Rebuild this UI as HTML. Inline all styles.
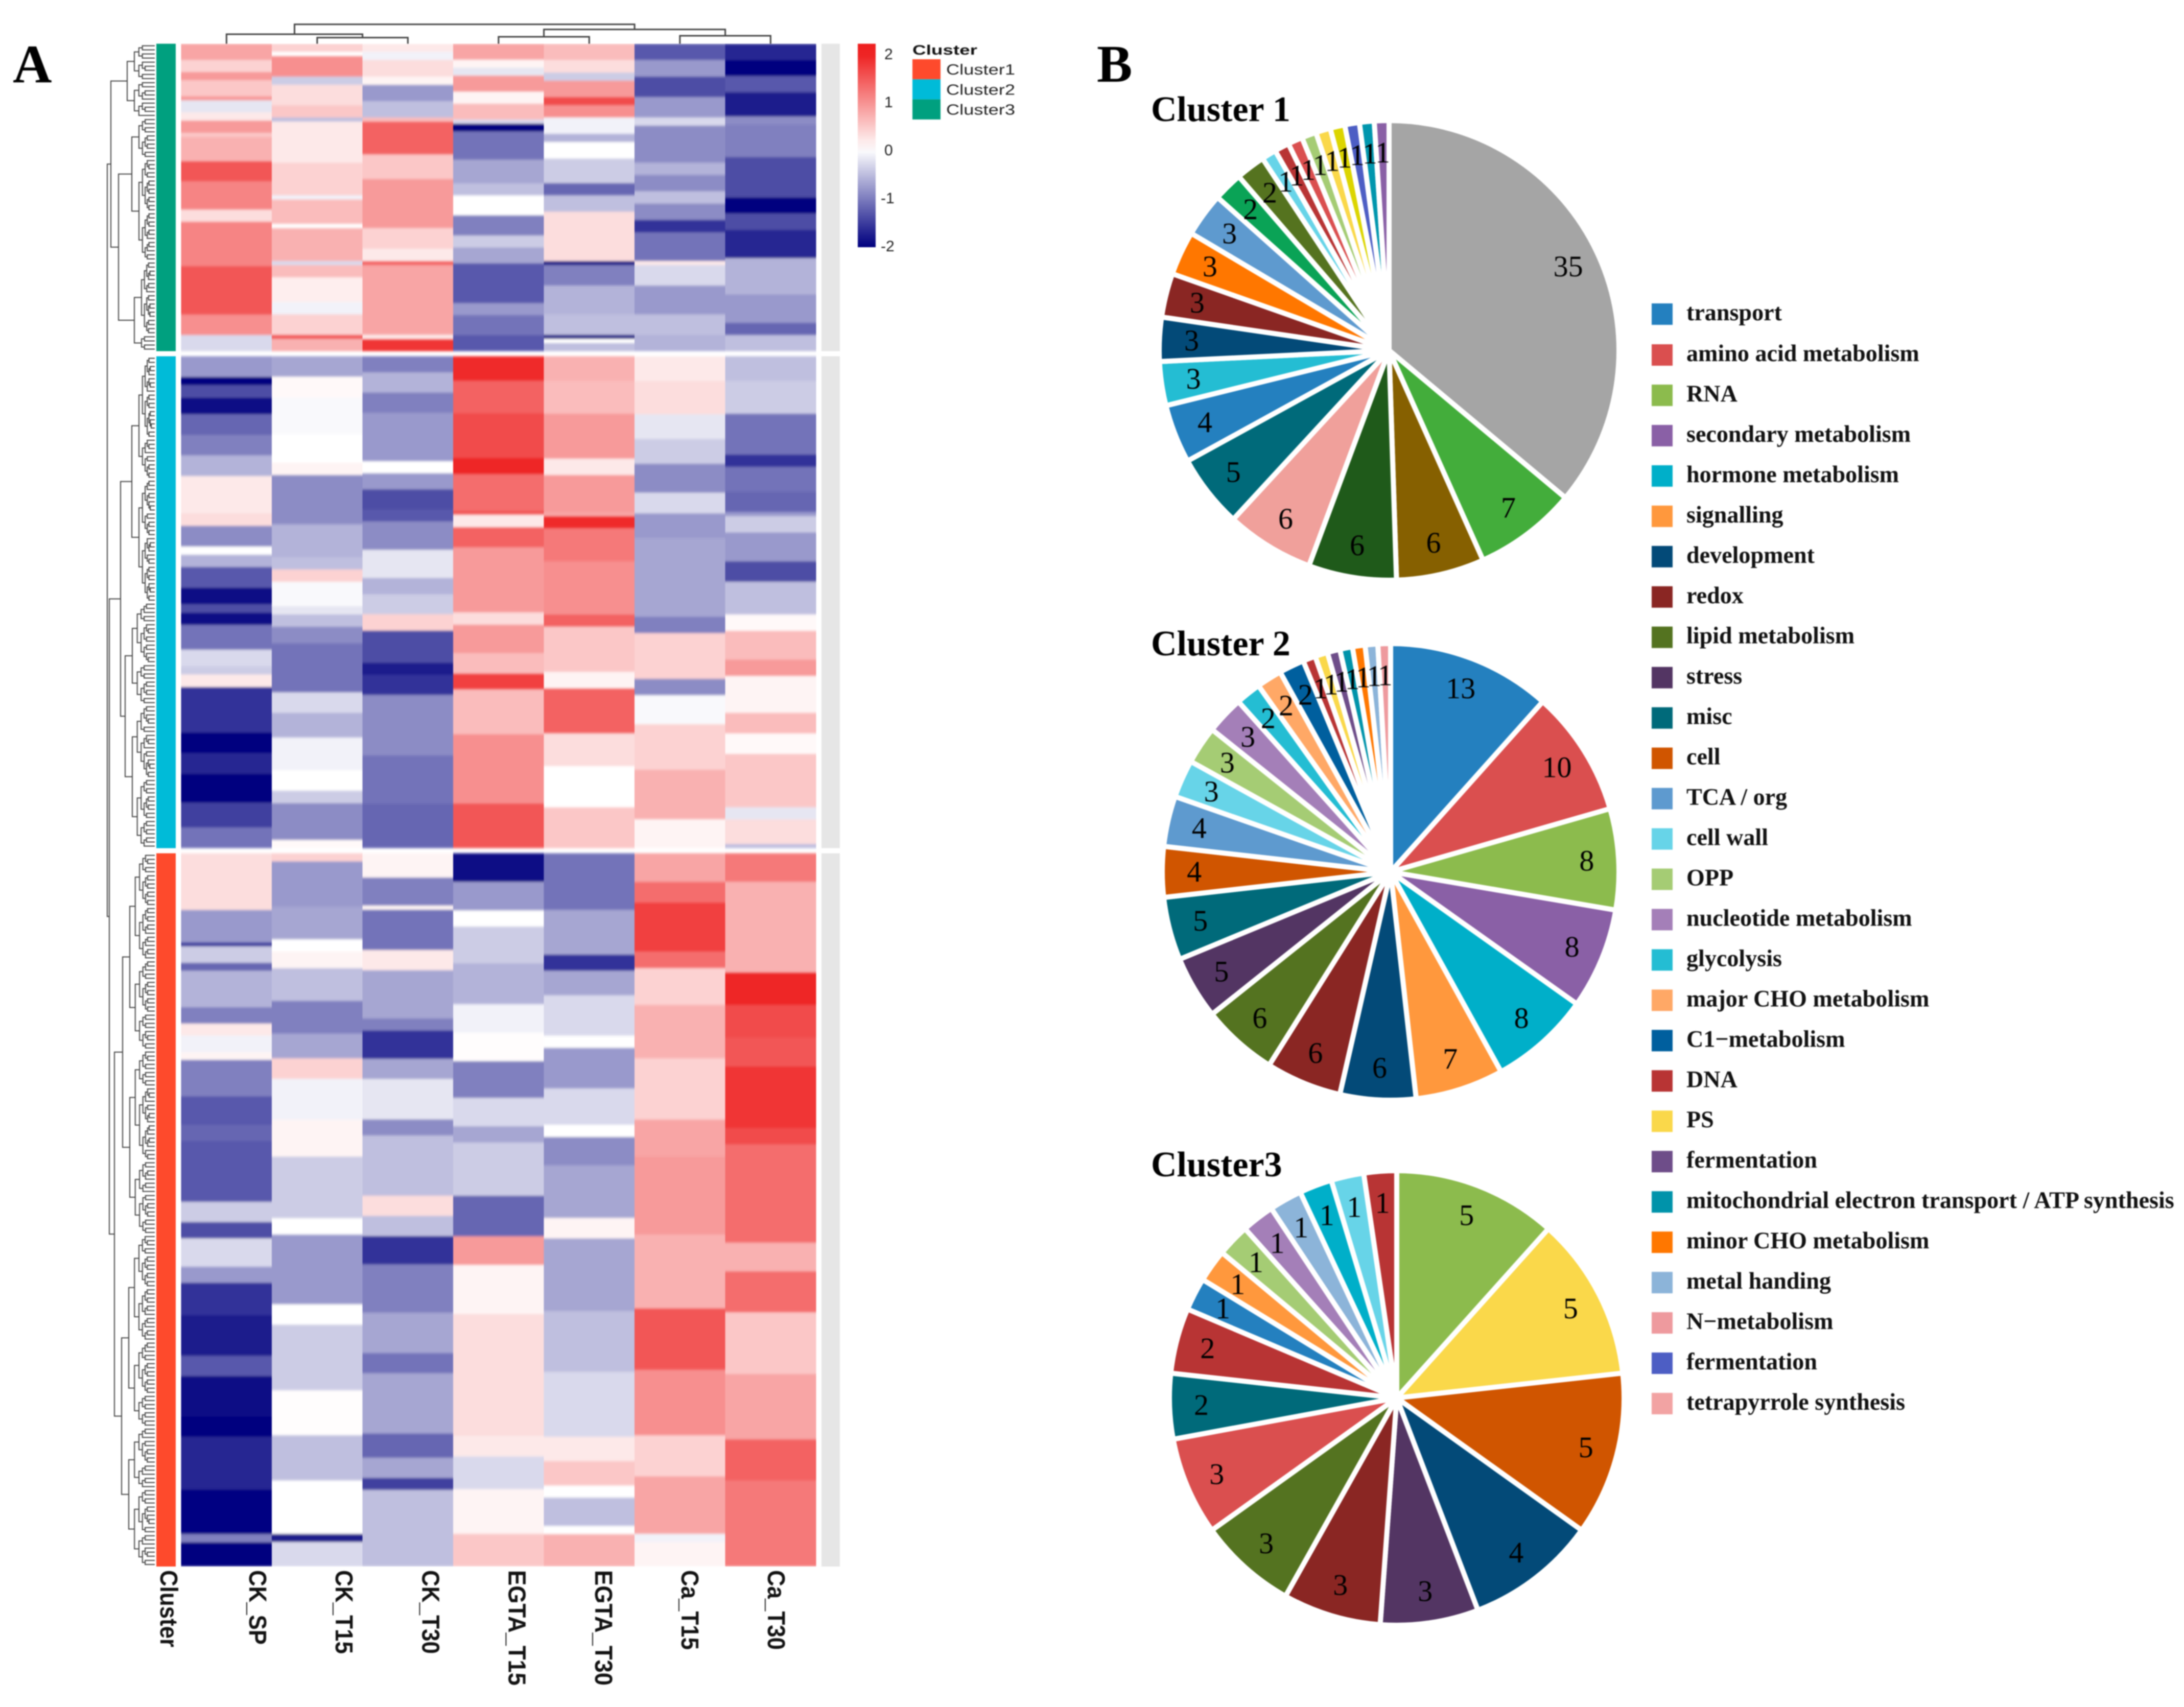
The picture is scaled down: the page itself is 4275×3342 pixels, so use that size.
<!DOCTYPE html>
<html lang="en">
<head>
<meta charset="utf-8">
<title>Heatmap and functional category pie charts</title>
<style>
html,body{margin:0;padding:0;background:#fff;}
svg{display:block;filter:blur(1.2px);}
.serif{font-family:"Liberation Serif",serif;}
.sans{font-family:"Liberation Sans",sans-serif;}
</style>
</head>
<body>
<svg id="fig" xmlns="http://www.w3.org/2000/svg" width="4275" height="3342" viewBox="0 0 4275 3342">
<defs><filter id="rowBlur" x="0" y="0" width="1" height="1"><feGaussianBlur stdDeviation="0 2.5"/></filter></defs>
<rect x="0" y="0" width="4275" height="3342" fill="#fff"/>
<text class="serif" x="25" y="161" font-size="106" font-weight="bold" fill="#000">A</text>
<text class="serif" x="2147" y="160" font-size="104" font-weight="bold" fill="#000">B</text>
<text class="serif" x="2253" y="237" font-size="70" font-weight="bold" fill="#000">Cluster 1</text>
<text class="serif" x="2253" y="1283" font-size="70" font-weight="bold" fill="#000">Cluster 2</text>
<text class="serif" x="2253" y="2303" font-size="70" font-weight="bold" fill="#000">Cluster3</text>
<text class="sans" x="1786" y="107" font-size="27" font-weight="bold" fill="#111" textLength="127" lengthAdjust="spacingAndGlyphs">Cluster</text>
<g id="heat" shape-rendering="crispEdges" filter="url(#rowBlur)"></g>
<g id="strip"></g>
<g id="annot"></g>
<g id="dendro"></g>
<g id="collabels"></g>
<g id="cbar"></g>
<g id="clegend"></g>
<g id="pies"></g>
<g id="legend"></g>
</svg>
<script>
// ---------- heatmap data: [rowCount, zScore, rowCount, zScore, ...] for each column ----------
const columnLabels = ["CK_SP","CK_T15","CK_T30","EGTA_T15","EGTA_T30","Ca_T15","Ca_T30"];
const columnLabelLengths = [146,164,164,226,226,156,156];
const clusterNames = ["Cluster3","Cluster2","Cluster1"];
const clusterRowCounts = [75,120,174];
const clusterColors = ["#00a07f","#00bbd8","#fe4a2c"];
const colorbarTicks = [2,1,0,-1,-2];

const cluster3Runs = [
 [4,.8,3,.4,2,.9,4,.5,1,.9,3,-.2,2,.2,3,.9,1,.5,6,.7,5,1.5,7,1.1,3,.3,11,1.1,12,1.5,5,1,4,-.3],
 [2,.4,1,0,5,1,2,-.4,5,.3,3,.5,1,-.5,10,.2,8,.4,1,-.1,6,.6,1,0,8,.7,1,-.3,3,.6,6,.15,3,-.1,5,.4,1,1.5,3,.7],
 [2,.2,2,-.1,4,.3,2,.1,4,-.8,4,-.5,1,.6,8,1.4,6,.5,12,.9,5,.4,3,.2,1,1.4,17,.8,1,.2,3,1.8],
 [4,.8,2,.1,2,-.2,4,.9,3,.1,4,.6,1,-.3,2,-2,7,-1.1,6,-.7,3,-.5,5,0,5,-1,3,-.4,4,-.7,10,-1.3,3,-.8,5,-1.1,4,-1.3],
 [4,.6,3,.3,2,-.4,4,.9,2,1.6,3,1,4,-.1,2,-.6,4,0,6,-.4,3,-1.2,4,-.5,12,.3,1,-1.9,5,-1,7,-.6,5,-.5,1,-1.9,1,0,2,-.5],
 [4,-1.3,4,-.8,5,-1.4,5,-.8,2,-.3,9,-.9,3,-.6,4,-.9,3,-.5,4,-.9,3,-1.6,7,-1.1,1,.2,5,-.3,7,-.8,5,-.5,4,-.6],
 [4,-1.7,4,-2,4,-1.3,6,-1.8,2,-.9,8,-1,10,-1.4,4,-2,4,-1.4,7,-1.7,9,-.6,7,-.8,3,-1.2,4,-.5]
];
const cluster2Runs = [
 [5,-.8,2,-2,3,-1.4,4,-1.9,5,-1.2,5,-1,5,-.6,9,.2,3,.3,5,-.9,2,0,3,-.6,5,-1.3,4,-1.9,2,-1.4,3,-1.9,6,-1.1,4,-.3,2,-.4,3,.2,11,-1.6,5,-2,5,-1.7,7,-2,6,-1.5,5,-1.1],
 [5,-.7,5,.05,9,-.05,7,0,3,.1,9,-.9,3,-.9,8,-.6,3,-.5,3,.4,6,-.05,2,-.2,3,-.5,4,-.9,12,-1.1,5,-.3,6,-.6,8,-.1,5,0,3,-.4,9,-.9,2,.05],
 [4,-1,5,-.6,5,-1,12,-.8,3,0,4,-.8,5,-1.4,3,-1.3,7,-.9,7,-.2,4,-.6,5,-.4,4,.4,8,-1.4,3,-1.8,5,-1.6,15,-.9,12,-1.1,11,-1.2],
 [6,1.9,8,1.4,11,1.6,4,1.95,9,1.3,1,1.5,3,.2,5,1.4,16,.9,3,.3,7,.9,5,.6,4,1.7,11,.6,17,1,11,1.5],
 [6,.7,8,.6,11,.9,4,.2,9,.9,1,.8,3,1.9,8,1.2,13,1,3,1.4,11,.5,4,.1,11,1.4,8,.3,10,0,10,.5],
 [6,.2,8,.3,6,-.2,6,-.4,7,-.9,5,-.3,6,-.8,19,-.7,4,-1,11,.4,4,-.9,7,-.05,11,.4,12,.7,7,.1],
 [6,-.5,8,-.4,10,-1.1,3,-1.6,6,-1.1,5,-1.2,1,-.8,4,-.4,7,-.8,5,-1.4,8,-.5,4,.05,7,.6,4,.9,9,.1,5,.6,5,.05,13,.5,3,-.2,6,.3,1,-.5]
];
const cluster1Runs = [
 [14,.3,8,-.8,1,-1.5,4,-.4,2,-1.2,9,-.6,4,-1,3,.2,4,-.1,2,.1,9,-1,7,-1.3,4,-1.2,15,-1.3,5,-.4,4,-1.4,7,-.3,4,-.8,8,-1.6,10,-1.8,5,-1.3,10,-1.9,5,-2,13,-1.7,11,-1.95,2,-1,6,-2],
 [2,.4,11,-.8,8,-.7,3,0,4,.1,8,-.5,8,-1,6,-.7,5,.4,10,-.1,9,.1,15,-.4,4,0,17,-.8,5,0,16,-.4,11,.02,11,-.5,13,0,2,-1.8,6,-.3],
 [6,.1,7,-1,1,.1,10,-1.1,5,.2,12,-.7,3,-1,7,-1.6,5,-.7,10,-.2,4,-.9,15,-.5,5,.3,5,-.5,7,-1.6,12,-1,10,-.7,5,-1.1,15,-.7,6,-1.2,5,-.7,3,-1.5,19,-.5],
 [7,-1.9,7,-.8,4,0,9,-.4,10,-.6,7,-.1,7,.02,9,-1,7,-.3,4,-.7,13,-.4,10,-1.2,7,.9,12,.1,30,.3,5,.2,8,-.3,11,.1,8,.5],
 [14,-1.1,11,-.7,4,-1.6,6,-.7,10,-.3,3,0,10,-.8,9,-.3,3,0,7,-.9,13,-.7,5,.1,7,-.7,11,-.7,15,-.5,16,-.3,6,.2,6,.5,3,0,7,-.5,2,0,8,.7],
 [7,.8,5,1.3,12,1.7,4,1.3,9,.4,13,.7,15,.4,9,.8,19,.9,18,.7,15,1.5,16,1,10,.4,14,.8,2,-.1,6,.1],
 [7,1.2,22,.7,8,1.95,8,1.6,7,1.5,15,1.8,4,1.6,24,1.3,7,.7,10,1.3,15,.5,16,.8,10,1.4,21,1.2]
];

// ---------- dendrogram structure ----------
const topTree = {h:38,l:{h:18.6,l:0,r:{h:12,l:1,r:2}},r:{h:28,l:{h:13.6,l:3,r:4},r:{h:15.6,l:5,r:6}}};
const leftTree = [210,[217,[249,9,9],[232,[258,10,25],[263,18,4]]],[214,[236,[258,30,30],[245,25,35]],[224,[240,48,45],[238,47,34]]]];
const splitFractions = [.45,.6,.35,.55,.5,.4,.65];

// ---------- pie data ----------
const legendLabels = ["transport","amino acid metabolism","RNA","secondary metabolism","hormone metabolism","signalling","development","redox","lipid metabolism","stress","misc","cell","TCA / org","cell wall","OPP","nucleotide metabolism","glycolysis","major CHO metabolism","C1\u2212metabolism","DNA","PS","fermentation","mitochondrial electron transport / ATP synthesis","minor CHO metabolism","metal handing","N\u2212metabolism","fermentation","tetrapyrrole synthesis"];
const legendColors = ["#2480bf","#da4f4f","#8cbb4d","#8a60a6","#00afc9","#ff983d","#034a78","#8a2623","#547320","#533563","#006a7a","#d05500","#5e9acf","#67d4e8","#a5cc74","#a47fb8","#24bdd3","#ffa866","#005f9e","#b83434","#fad84a","#6e4d89","#0093aa","#ff7700","#8cb4d9","#ee9a9e","#4d5ec4","#f2a3a3"];

const pie1Values = [35,7,6,6,6,5,4,3,3,3,3,3,2,2,1,1,1,1,1,1,1,1,1];
const pie1Colors = ["#a5a5a5","#43ad3b","#866000","#1f5a1a","#f0a09b","#006a7a","#2480bf","#24bdd3","#034a78","#8a2623","#ff7700","#5e9acf","#0aa356","#55731f","#67d4e8","#b83434","#da4f4f","#a5cc74","#fad84a","#dcd500","#4d5ec4","#0096ad","#8a60a6"];
const pie2Values = [13,10,8,8,8,7,6,6,6,5,5,4,4,3,3,3,2,2,2,1,1,1,1,1,1,1];
const pie2Categories = [0,1,2,3,4,5,6,7,8,9,10,11,12,13,14,15,16,17,18,19,20,21,22,23,24,25];
const pie3Values = [5,5,5,4,3,3,3,3,2,2,1,1,1,1,1,1,1,1];
const pie3Categories = [2,20,11,6,9,7,8,1,10,19,0,5,14,15,24,4,13,19];

// ---------- helpers ----------
const NS = "http://www.w3.org/2000/svg";
function mk(parent, tag, attrs){
  const el = document.createElementNS(NS, tag);
  for (const k in attrs) el.setAttribute(k, attrs[k]);
  parent.appendChild(el);
  return el;
}
function heatColor(v){
  const t = Math.max(-2, Math.min(2, v)) / 2;
  const hi = [238,31,31], lo = [0,0,127];
  const c = t >= 0 ? hi : lo, a = Math.abs(t);
  return "rgb(" + c.map(x => Math.round(255 + (x - 255) * a)).join(",") + ")";
}
const heatLeft = 354.6, colWidth = 177.5, heatTop = 85.6, heatBottom = 3067, blockGap = 10;
const totalRows = clusterRowCounts.reduce((a,b) => a + b, 0);
const rowHeight = (heatBottom - heatTop - blockGap * (clusterRowCounts.length - 1)) / totalRows;
function blockTop(b){
  let y = heatTop;
  for (let i = 0; i < b; i++) y += clusterRowCounts[i] * rowHeight + blockGap;
  return y;
}
function rowY(r){
  let b = 0, rest = r;
  while (b < clusterRowCounts.length - 1 && rest >= clusterRowCounts[b]) { rest -= clusterRowCounts[b]; b++; }
  return blockTop(b) + rest * rowHeight;
}
function colX(i){ return heatLeft + i * colWidth; }

// ---------- heatmap cells ----------
const heatG = document.getElementById("heat");
[cluster3Runs, cluster2Runs, cluster1Runs].forEach((runs, b) => {
  const top = blockTop(b), blockH = clusterRowCounts[b] * rowHeight;
  runs.forEach((col, c) => {
    let sum = 0;
    for (let i = 0; i < col.length; i += 2) sum += col[i];
    let acc = 0;
    for (let i = 0; i < col.length; i += 2) {
      const y0 = top + acc / sum * blockH;
      acc += col[i];
      const y1 = top + acc / sum * blockH;
      const r = mk(heatG, "rect", {x: colX(c), y: y0, width: colWidth + .5, height: y1 - y0 + (i + 2 < col.length ? .6 : 0), fill: heatColor(col[i + 1])});
      
      
    }
  });
});

// ---------- cluster annotation bar and row-label strip ----------
const annotG = document.getElementById("annot");
const stripG = document.getElementById("strip");
clusterNames.forEach((n, b) => {
  const h = clusterRowCounts[b] * rowHeight;
  const a = mk(annotG, "rect", {x: 306, y: blockTop(b), width: 38, height: h, fill: clusterColors[b]});
  
  
  const s = mk(stripG, "rect", {x: 1608, y: blockTop(b), width: 36, height: h, fill: "#e6e6e6"});
  
  
});

// ---------- dendrograms ----------
const dendroG = document.getElementById("dendro");
let topD = "";
function drawTop(node){
  if (typeof node === "number") return [colX(node) + colWidth / 2, heatTop];
  const a = drawTop(node.l), b = drawTop(node.r), y = heatTop - node.h;
  topD += "M" + a[0] + " " + a[1] + "V" + y + "H" + b[0] + "V" + b[1];
  return [(a[0] + b[0]) / 2, y];
}
drawTop(topTree);
const topPath = mk(dendroG, "path", {d: topD, fill: "none", stroke: "#444", "stroke-width": 3});



let leftD = "", rowCursor = 0, splitCursor = 0;
const leafX = 303;
function bisect(count, x){
  if (count <= 1) { const y = rowY(rowCursor) + rowHeight / 2; rowCursor++; return [leafX, y]; }
  const f = splitFractions[splitCursor++ % splitFractions.length];
  const k = Math.max(1, Math.min(count - 1, Math.round(count * f)));
  const nx = x + (leafX - x) * .22;
  const a = bisect(k, nx), b = bisect(count - k, nx);
  leftD += "M" + a[0] + " " + a[1] + "H" + x + "V" + b[1] + "H" + b[0];
  return [x, (a[1] + b[1]) / 2];
}
function drawLeft(node, startX){
  if (typeof node === "number") return bisect(node, startX);
  const x = node[0];
  const a = drawLeft(node[1], x + 14), b = drawLeft(node[2], x + 14);
  leftD += "M" + a[0] + " " + a[1] + "H" + x + "V" + b[1] + "H" + b[0];
  return [x, (a[1] + b[1]) / 2];
}
drawLeft(leftTree, 210);
const leftPath = mk(dendroG, "path", {d: leftD, fill: "none", stroke: "#444", "stroke-width": 2});



// ---------- column labels ----------
const labG = document.getElementById("collabels");
function colLabel(text, x, len, nm){
  const t = mk(labG, "text", {transform: "translate(" + x + ",3074) rotate(90)", "font-size": 48, "font-weight": "bold", fill: "#111", textLength: len, lengthAdjust: "spacingAndGlyphs", class: "sans"});
  t.textContent = text;
  
  
}
colLabel("Cluster", 314, 151, "cluster-column-label");
columnLabels.forEach((l, i) => {
  colLabel(l, 488 + i * 169.2, columnLabelLengths[i], "column-label");
});

// ---------- colorbar ----------
const cbarG = document.getElementById("cbar");
const cbTop = 85.6, cbBottom = 484, cbZeroY = 293, cbUnit = 94;
function cbY(v){ return cbZeroY - v * cbUnit; }
const defs = mk(cbarG, "defs", {});
const grad = mk(defs, "linearGradient", {id: "cbGrad", x1: 0, y1: 0, x2: 0, y2: 1});
for (let v = 2.2; v >= -2.05; v -= .25) {
  mk(grad, "stop", {offset: ((cbY(v) - cbTop) / (cbBottom - cbTop)), "stop-color": heatColor(v)});
}
const cbRect = mk(cbarG, "rect", {x: 1679, y: cbTop, width: 35, height: cbBottom - cbTop, fill: "url(#cbGrad)"});


colorbarTicks.forEach(v => {
  const t = mk(cbarG, "text", {x: v < 0 ? 1724 : 1731, y: cbY(v) + 11, "font-size": 30, fill: "#222", class: "sans"});
  t.textContent = String(v);
  
  
});

// ---------- cluster legend ----------
const clG = document.getElementById("clegend");
[2,1,0].forEach((b, i) => {
  const r = mk(clG, "rect", {x: 1786, y: 116 + i * 39.3, width: 55, height: 39.3, fill: clusterColors[b]});
  
  
  const t = mk(clG, "text", {x: 1852, y: 146 + i * 39.3, "font-size": 29, fill: "#222", textLength: 135, lengthAdjust: "spacingAndGlyphs", class: "sans"});
  t.textContent = clusterNames[b];
  
  
});

// ---------- pies ----------
const piesG = document.getElementById("pies");
function drawPie(name, cx, cy, r, values, colors){
  const g = mk(piesG, "g", {});
  
  
  const total = values.reduce((a,b) => a + b, 0);
  let acc = 0;
  const labelItems = [];
  values.forEach((v, i) => {
    const a0 = acc / total * 2 * Math.PI;
    acc += v;
    const a1 = acc / total * 2 * Math.PI;
    const large = (a1 - a0) > Math.PI ? 1 : 0;
    const d = "M" + cx + " " + cy + "L" + (cx + r * Math.sin(a0)) + " " + (cy - r * Math.cos(a0)) + "A" + r + " " + r + " 0 " + large + " 1 " + (cx + r * Math.sin(a1)) + " " + (cy - r * Math.cos(a1)) + "Z";
    const p = mk(g, "path", {d: d, fill: colors[i], stroke: "#fff", "stroke-width": 10, "stroke-linejoin": "miter"});
    
    
    labelItems.push([v, (a0 + a1) / 2]);
  });
  labelItems.forEach(it => {
    const t = mk(g, "text", {x: cx + r * .86 * Math.sin(it[1]), y: cy - r * .86 * Math.cos(it[1]) + 19, "font-size": 58, "text-anchor": "middle", fill: "#000", class: "serif"});
    t.textContent = String(it[0]);
    
    
  });
}
drawPie("pie-cluster-1", 2719, 686, 450, pie1Values, pie1Colors);
drawPie("pie-cluster-2", 2722, 1707, 447, pie2Values, pie2Categories.map(i => legendColors[i]));
drawPie("pie-cluster-3", 2734, 2737, 445, pie3Values, pie3Categories.map(i => legendColors[i]));

// ---------- category legend ----------
const legG = document.getElementById("legend");
legendLabels.forEach((l, i) => {
  const cy = i === 0 ? 615 : 695 + (i - 1) * 78.96;
  const s = mk(legG, "rect", {x: 3233, y: cy - 21, width: 41, height: 42, fill: legendColors[i]});
  
  
  const t = mk(legG, "text", {x: 3301, y: cy + 12, "font-size": 46.1, "font-weight": "bold", fill: "#111", class: "serif"});
  t.textContent = l;
  
  
});
</script>
</body>
</html>
